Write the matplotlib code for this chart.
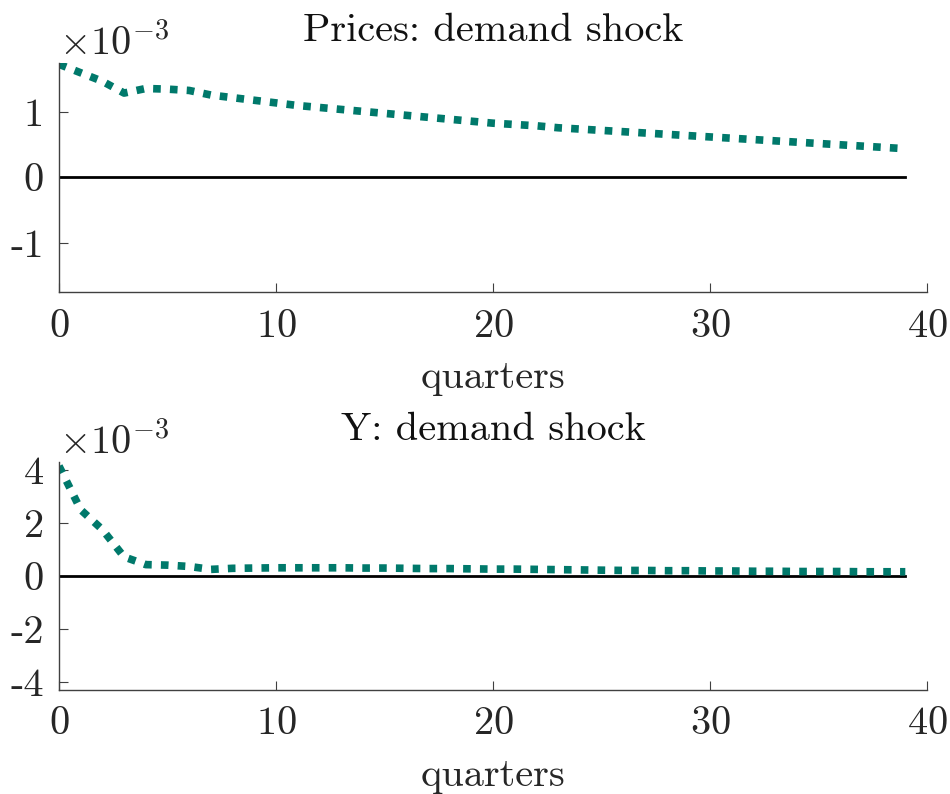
import numpy as np
import matplotlib
matplotlib.use('Agg')
import matplotlib.pyplot as plt
from matplotlib.ticker import FuncFormatter

plt.rcParams['font.family'] = 'cmr10'
plt.rcParams['mathtext.fontset'] = 'cm'
plt.rcParams['axes.formatter.use_mathtext'] = True
plt.rcParams['font.size'] = 29

quarters = np.arange(40)

# impulse responses (levels)
prices = np.array([1.73, 1.60, 1.47, 1.29, 1.36, 1.35, 1.33, 1.26, 1.22, 1.18,
                   1.14, 1.10, 1.07, 1.04, 1.01, 0.98, 0.95, 0.92, 0.89, 0.86,
                   0.83, 0.81, 0.79, 0.76, 0.74, 0.72, 0.70, 0.68, 0.66, 0.64,
                   0.62, 0.60, 0.58, 0.56, 0.54, 0.52, 0.50, 0.48, 0.46, 0.44]) * 1e-3
output = np.array([4.15, 2.50, 1.75, 0.72, 0.43, 0.41, 0.36, 0.25, 0.29, 0.30,
                   0.31, 0.31, 0.31, 0.31, 0.30, 0.30, 0.29, 0.28, 0.28, 0.27,
                   0.26, 0.26, 0.25, 0.24, 0.23, 0.22, 0.21, 0.21, 0.20, 0.20,
                   0.19, 0.19, 0.18, 0.18, 0.17, 0.17, 0.17, 0.16, 0.16, 0.16]) * 1e-3

panels = [
    ('Prices: demand shock', prices, 1.75e-3, [-1e-3, 0, 1e-3]),
    ('Y: demand shock', output, 4.3e-3, [-4e-3, -2e-3, 0, 2e-3, 4e-3]),
]

teal = '#00796B'
fig = plt.figure(figsize=(9.5, 7.94), dpi=100)
axes_pos = [[0.0621, 0.6322, 0.9137, 0.2885],
            [0.0621, 0.1310, 0.9137, 0.2871]]

for (title, series, lim, yt), pos in zip(panels, axes_pos):
    ax = fig.add_axes(pos)
    ax.plot(quarters, np.zeros_like(quarters, dtype=float), color='k', lw=2.0)
    ax.plot(quarters, series, color=teal, lw=5.5, linestyle=(0, (1, 1.2)),
            dash_capstyle='butt')
    ax.set_xlim(0, 40)
    ax.set_ylim(-lim, lim)
    ax.set_xticks([0, 10, 20, 30, 40])
    ax.set_yticks(yt)
    ax.yaxis.set_major_formatter(FuncFormatter(lambda v, p: f'{v / 1e-3:g}'))
    ax.text(0.0, 1.0, r'$\times10^{-3}$', transform=ax.transAxes,
            ha='left', va='bottom', color='#262626')
    for s in ['top', 'right']:
        ax.spines[s].set_visible(False)
    for s in ['left', 'bottom']:
        ax.spines[s].set_color('#404040')
        ax.spines[s].set_linewidth(1.0)
    ax.tick_params(direction='in', length=6.5, width=0.8, color='#404040',
                   labelcolor='#262626')
    ax.tick_params(axis='x', pad=12)
    ax.tick_params(axis='y', pad=11)
    ax.set_title(title, fontsize=29, pad=16, color='#111111')
    ax.set_xlabel('quarters', labelpad=11, color='#262626')

fig.savefig('out.png', dpi=100)
